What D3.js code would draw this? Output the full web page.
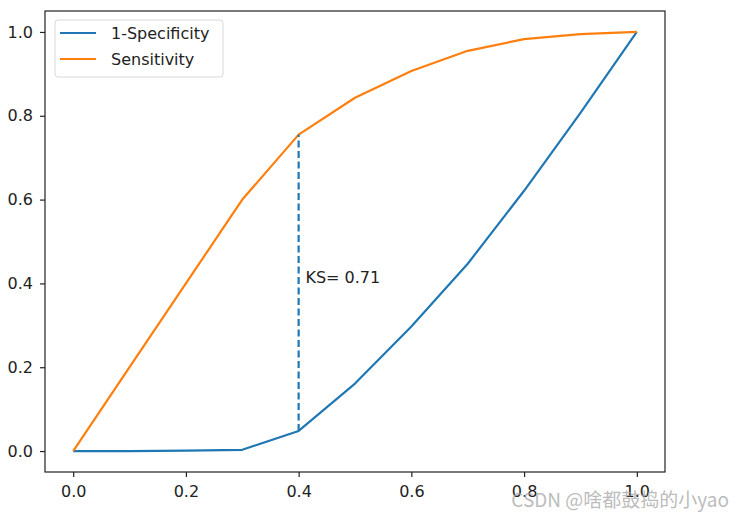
<!DOCTYPE html>
<html>
<head>
<meta charset="utf-8">
<script src="https://cdn.jsdelivr.net/npm/d3@7"></script>
<style>
  body { margin: 0; background: #fff; }
  text { font-family: "DejaVu Sans", sans-serif; }
</style>
</head>
<body>
<svg id="chart" width="741" height="520"></svg>
<script>
// thresholds along the x axis
const thresholds = [0, 0.1, 0.2, 0.3, 0.4, 0.5, 0.6, 0.7, 0.8, 0.9, 1.0];
// 1 - specificity (false positive rate)
const fpr = [0, 0, 0.001, 0.003, 0.048, 0.161, 0.297, 0.447, 0.621, 0.807, 1.0];
// sensitivity (true positive rate)
const tpr = [0, 0.2, 0.4, 0.6, 0.755, 0.843, 0.907, 0.955, 0.983, 0.995, 1.0];
const seriesNames = ["1-Specificity", "Sensitivity"];
const xTicks = [0, 0.2, 0.4, 0.6, 0.8, 1.0];
const yTicks = [0, 0.2, 0.4, 0.6, 0.8, 1.0];
const ksX = 0.4;
const ksLabel = "KS= 0.71";

const colors = ["#1f77b4", "#ff7f0e"];
const fontSize = "16px";

const svg = d3.select("#chart");
const frame = { left: 45, right: 665, top: 11, bottom: 472 };

const x = d3.scaleLinear()
    .domain([-0.05, 1.05])
    .range([frame.left, frame.right]);

const y = d3.scaleLinear()
    .domain([-0.05, 1.05])
    .range([frame.bottom, frame.top]);

// axes
const xAxis = svg.append("g")
    .attr("transform", `translate(0,${frame.bottom})`)
    .call(d3.axisBottom(x).tickValues(xTicks).tickFormat(d3.format(".1f")).tickSize(5).tickPadding(9));

const yAxis = svg.append("g")
    .attr("transform", `translate(${frame.left},0)`)
    .call(d3.axisLeft(y).tickValues(yTicks).tickFormat(d3.format(".1f")).tickSize(5).tickPadding(7));

[xAxis, yAxis].forEach(a => {
    a.select(".domain").remove();
    a.selectAll(".tick line").attr("stroke", "#222").attr("stroke-width", 1.2);
    a.selectAll(".tick text")
        .attr("fill", "#222")
        .style("font-size", fontSize)
        .style("font-family", "'DejaVu Sans', sans-serif");
});

// lines
const line = d3.line()
    .x((d, i) => x(thresholds[i]))
    .y(d => y(d));

[fpr, tpr].forEach((s, i) => {
    svg.append("path")
        .datum(s)
        .attr("d", line)
        .attr("fill", "none")
        .attr("stroke", colors[i])
        .attr("stroke-width", 2.2)
        .attr("stroke-linejoin", "round");
});

// KS dashed line
const ksIdx = thresholds.indexOf(ksX);
svg.append("line")
    .attr("x1", x(ksX)).attr("x2", x(ksX))
    .attr("y1", y(fpr[ksIdx])).attr("y2", y(tpr[ksIdx]))
    .attr("stroke", colors[0])
    .attr("stroke-width", 2.2)
    .attr("stroke-dasharray", "7,3.5");

svg.append("text")
    .attr("x", x(ksX + 0.012))
    .attr("y", y(0.4))
    .attr("fill", "#222")
    .style("font-size", fontSize)
    .text(ksLabel);

// frame
svg.append("rect")
    .attr("x", frame.left).attr("y", frame.top)
    .attr("width", frame.right - frame.left)
    .attr("height", frame.bottom - frame.top)
    .attr("fill", "none")
    .attr("stroke", "#222")
    .attr("stroke-width", 1.2);

// legend
const legend = svg.append("g").attr("transform", "translate(55,20)");
legend.append("rect")
    .attr("width", 168).attr("height", 57)
    .attr("rx", 3)
    .attr("fill", "#fff")
    .attr("fill-opacity", 0.8)
    .attr("stroke", "#d8d8d8");

seriesNames.forEach((name, i) => {
    const g = legend.append("g").attr("transform", `translate(0,${13 + i * 26})`);
    g.append("line")
        .attr("x1", 5).attr("x2", 41)
        .attr("stroke", colors[i])
        .attr("stroke-width", 2.2);
    g.append("text")
        .attr("x", 56)
        .attr("dy", "0.35em")
        .attr("fill", "#222")
        .style("font-size", fontSize)
        .text(name);
});

// watermark
svg.append("text")
    .attr("x", 729)
    .attr("y", 507)
    .attr("text-anchor", "end")
    .attr("fill", "#aaa")
    .attr("fill-opacity", 0.8)
    .style("font-family", "'Noto Sans CJK SC', sans-serif")
    .style("font-size", "19px")
    .text("CSDN @啥都鼓捣的小yao");
</script>
</body>
</html>
